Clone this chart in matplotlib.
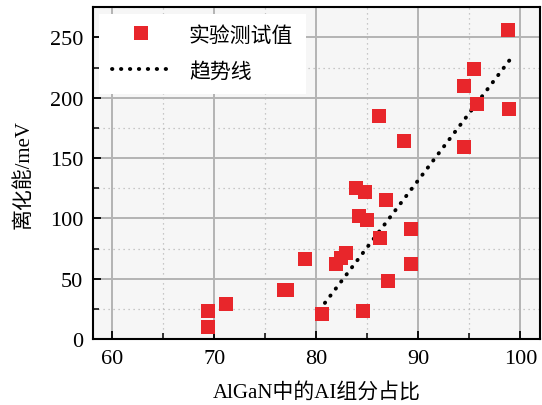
import numpy as np
import matplotlib
matplotlib.use("Agg")
import matplotlib.pyplot as plt
from matplotlib.ticker import MultipleLocator

plt.rcParams['font.family'] = ['Liberation Serif', 'Noto Sans CJK SC', 'DejaVu Sans']

# measured points: Al fraction (%) vs ionization energy (meV)
al_frac = [98.8, 95.4, 94.45, 95.7, 98.85, 86.1, 88.6, 94.5, 83.9, 84.8,
           86.8, 84.2, 85.0, 89.3, 86.2, 82.9, 82.4, 81.9, 78.9, 89.3,
           87.05, 76.8, 77.1, 71.15, 69.35, 69.35, 80.5, 84.6]
energy = [256, 224, 210, 195, 191, 185, 164, 159, 125, 122,
          115, 102, 99, 91, 84, 71, 67, 62, 66, 62,
          48, 41, 41, 29, 23.5, 10, 21, 23.5]

# trend line end points
trend_x = [80.3, 99.1]
trend_y = [24, 233]

fig = plt.figure(figsize=(5.42, 4.06), dpi=100)
ax = fig.add_axes([0.1716, 0.1626, 0.8244, 0.817])
ax.set_facecolor('#f6f6f6')

ax.plot(trend_x, trend_y, linestyle=(0, (0.1, 2.2)), dash_capstyle='round',
        color='black', linewidth=2.8, label='趋势线', zorder=3)
ax.plot(al_frac, energy, 's', color='#e8262b', markersize=9.8, markeredgewidth=0,
        label='实验测试值', zorder=4)

ax.set_xlim(58.1, 101.9)
ax.set_ylim(0, 275)
ax.xaxis.set_major_locator(MultipleLocator(10))
ax.xaxis.set_minor_locator(MultipleLocator(5))
ax.yaxis.set_major_locator(MultipleLocator(50))
ax.yaxis.set_minor_locator(MultipleLocator(25))

ax.grid(which='major', color='#b4b4b4', linewidth=1.4, linestyle='-')
ax.grid(which='minor', color='#b8b8b8', linewidth=0.9, linestyle=(0, (1, 3)))
ax.set_axisbelow(True)

ax.tick_params(which='major', direction='in', length=6, width=1.3, labelsize=16, pad=7)
ax.tick_params(which='minor', direction='in', length=4, width=1.1)
for s in ax.spines.values():
    s.set_linewidth(1.5)

ax.set_xlabel('AlGaN中的AI组分占比', fontsize=15, labelpad=10)
ax.set_ylabel('离化能/meV', fontsize=15, labelpad=12)

handles, labels = ax.get_legend_handles_labels()
leg = ax.legend(handles[::-1], labels[::-1], loc='upper left', fontsize=15,
                frameon=True, facecolor='white', edgecolor='none', framealpha=1,
                handlelength=2.8, handletextpad=0.9, borderaxespad=0.3,
                borderpad=0.6, labelspacing=0.75, fancybox=False)

fig.savefig('out.png', dpi=100)
